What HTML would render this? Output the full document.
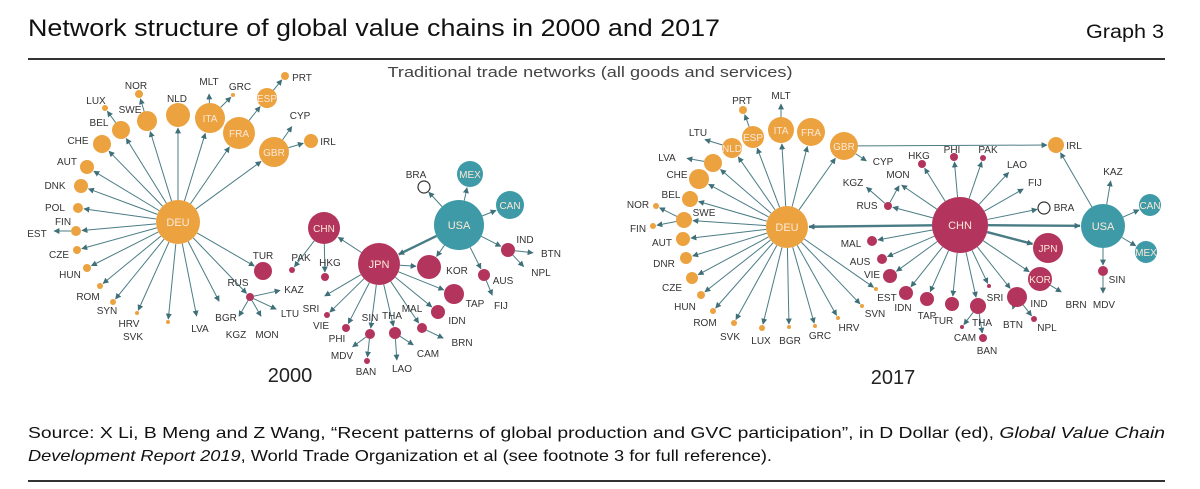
<!DOCTYPE html>
<html><head><meta charset="utf-8"><style>
html,body{margin:0;padding:0;background:#fff;}
svg{display:block;font-family:"Liberation Sans",sans-serif;}
</style></head><body>
<svg id="chart" width="1200" height="489" viewBox="0 0 1200 489" xmlns="http://www.w3.org/2000/svg">
<defs>
<marker id="ah" viewBox="0 0 10 10" refX="9" refY="5" markerWidth="6" markerHeight="6" markerUnits="userSpaceOnUse" orient="auto"><path d="M0,0L10,5L0,10z" fill="#3f6f78"/></marker>
</defs>
<text x="28" y="36" font-size="24" fill="#111" textLength="692" lengthAdjust="spacingAndGlyphs">Network structure of global value chains in 2000 and 2017</text>
<text x="1164" y="38" font-size="19" fill="#111" text-anchor="end" textLength="78" lengthAdjust="spacingAndGlyphs">Graph 3</text>
<line x1="28" y1="59" x2="1165" y2="59" stroke="#333" stroke-width="2"/>
<text x="590" y="77" font-size="15" fill="#444" text-anchor="middle" textLength="405" lengthAdjust="spacingAndGlyphs">Traditional trade networks (all goods and services)</text>
<g id="edges"></g>
<g id="nodes"></g>
<text x="290" y="382" font-size="20" fill="#222" text-anchor="middle">2000</text>
<text x="893" y="384" font-size="20" fill="#222" text-anchor="middle">2017</text>
<text x="28" y="438" font-size="16" fill="#111" textLength="1137" lengthAdjust="spacingAndGlyphs">Source: X Li, B Meng and Z Wang, “Recent patterns of global production and GVC participation”, in D Dollar (ed), <tspan font-style="italic">Global Value Chain</tspan></text>
<text x="28" y="461" font-size="16" fill="#111" textLength="744" lengthAdjust="spacingAndGlyphs"><tspan font-style="italic">Development Report 2019</tspan>, World Trade Organization et al (see footnote 3 for full reference).</text>
<line x1="28" y1="481" x2="1165" y2="481" stroke="#333" stroke-width="2"/>
</svg>
<script>
const nodes2000 = [
["DEU",178,222,22,"o","in"],["NLD",178,115,12,"o",177,98],["ITA",210,118,15,"o","in"],["FRA",239,133,16,"o","in"],
["GBR",274,152,15,"o","in"],["ESP",267,98,10,"o","in"],["PRT",285,76,4,"o",302,77],["GRC",233,95,2,"o",240,86],
["MLT",209,92,1,"o",209,81],["CYP",293,125,1,"o",300,115],["IRL",311,141,7,"o",328,141],["SWE",147,121,10,"o",130,109],
["NOR",139,94,4,"o",136,85],["LUX",105,108,3,"o",96,100],["BEL",121,130,9,"o",99,122],["CHE",102,144,9,"o",78,140],
["AUT",87,167,7,"o",67,161],["DNK",81,186,7,"o",55,185],["POL",78,208,5,"o",55,207],["FIN",76,231,5,"o",63,221],
["EST",52,231,1,"o",37,233],["CZE",77,250,4,"o",59,254],["HUN",87,268,4,"o",70,274],["ROM",100,286,3,"o",88,296],
["SYN",113,302,3,"o",107,310],["HRV",137,313,2,"o",129,323],["SVK",168,322,2,"o",133,336],["LVA",197,318,1,"o",200,328],
["BGR",220,303,1,"o",226,317],["TUR",263,271,9,"c",263,255],["RUS",250,297,4,"c",238,282],["KAZ",282,290,1,"c",294,289],
["LTU",278,310,1,"c",290,313],["KGZ",238,318,1,"c",236,334],["MON",262,318,1,"c",267,334],
["CHN",324,228,16,"c","in"],["PAK",292,270,3,"c",301,257],["HKG",325,277,4,"c",330,262],["JPN",379,264,21,"c","in"],
["USA",459,225,25,"t","in"],["MEX",470,174,13,"t","in"],["CAN",510,205,14,"t","in"],["BRA",424,187,6,"w",416,174],
["IND",508,250,7,"c",525,239],["BTN",535,253,1,"c",551,253],["NPL",525,268,1,"c",541,272],["AUS",484,275,6,"c",503,280],
["FIJ",493,297,1,"c",501,305],["KOR",429,267,12,"c",457,270],["TAP",454,294,10,"c",475,303],["IDN",438,312,7,"c",457,320],
["MAL",422,328,5,"c",412,308],["BRN",445,339,1,"c",462,342],["CAM",415,346,1,"c",428,353],["THA",395,333,6,"c",392,315],
["LAO",397,362,1,"c",402,368],["SIN",370,334,5,"c",370,317],["BAN",367,361,3,"c",366,371],["MDV",351,348,1,"c",342,355],
["PHI",346,328,4,"c",337,338],["VIE",327,315,3,"c",321,325],["SRI",323,297,1,"c",311,308]
];
const edges2000 = [
["DEU",["NLD","ITA","FRA","GBR","SWE","BEL","CHE","AUT","DNK","POL","FIN","CZE","HUN","ROM","SYN","HRV","SVK","LVA","BGR","TUR","RUS"]],
["ITA",["MLT","GRC"]],["FRA",["ESP"]],["ESP",["PRT"]],["GBR",["CYP","IRL"]],["SWE",["NOR"]],["BEL",["LUX"]],["FIN",["EST"]],
["RUS",["KAZ","LTU","KGZ","MON"]],["CHN",["PAK","HKG"]],
["JPN",["CHN","SRI","VIE","PHI","SIN","THA","MAL","IDN","TAP","KOR"]],["SIN",["MDV","BAN"]],["THA",["LAO","CAM"]],["MAL",["BRN"]],
["USA",["JPN","BRA","MEX","CAN","IND","AUS","KOR"]],["IND",["BTN","NPL"]],["AUS",["FIJ"]]
];
const nodes2017 = [
["DEU",787,227,21,"o","in"],["GBR",844,146,14,"o","in"],["FRA",811,132,14,"o","in"],["ITA",781,130,13,"o","in"],
["ESP",753,137,11,"o","in"],["NLD",732,148,10,"o","in"],["PRT",743,110,4,"o",742,100],["MLT",781,102,1,"o",781,95],
["LTU",703,139,1,"o",698,132],["LVA",685,158,1,"o",667,157],["X1",713,163,9,"o",null],["CHE",699,179,10,"o",677,174],
["BEL",690,199,8,"o",671,194],["NOR",656,206,3,"o",638,204],["SWE",684,220,8,"o",704,212],["FIN",653,226,3,"o",638,228],
["AUT",683,239,7,"o",662,242],["DNR",686,258,6,"o",664,263],["CZE",692,278,6,"o",672,287],["HUN",701,295,4,"o",685,306],
["ROM",713,311,3,"o",705,322],["SVK",734,323,3,"o",730,336],["LUX",762,328,3,"o",761,340],["BGR",789,327,2,"o",790,340],
["GRC",815,326,2,"o",820,335],["HRV",838,318,2,"o",849,327],["SVN",862,306,2,"o",875,313],["EST",876,289,2,"o",887,297],
["IRL",1056,145,8,"o",1074,145],["CYP",868,162,1,"o",883,161],
["CHN",960,225,28,"c","in"],["MAL",872,241,5,"c",851,243],["AUS",882,259,5,"c",860,261],["VIE",890,276,7,"c",872,274],
["RUS",888,206,4,"c",867,205],["KGZ",865,186,1,"c",853,182],["MON",900,184,1,"c",898,174],["HKG",922,164,4,"c",919,155],
["PHI",954,157,4,"c",952,149],["PAK",983,158,3,"c",988,149],["LAO",1010,171,1,"c",1017,164],["FIJ",1025,188,1,"c",1035,182],
["BRA",1044,208,6,"w",1064,207],["USA",1103,226,22,"t","in"],["CAN",1150,205,11,"t","in"],["MEX",1146,252,11,"t","in"],
["KAZ",1111,179,1,"t",1113,171],["SIN",1103,271,5,"c",1117,279],["MDV",1103,295,1,"c",1104,304],
["JPN",1048,248,15,"c","in"],["KOR",1040,279,12,"c","in"],["BRN",1063,293,1,"c",1076,304],["IND",1017,297,10,"c",1039,303],
["NPL",1034,319,3,"c",1047,327],["BTN",1012,311,1,"c",1013,324],["SRI",989,286,2,"c",995,297],["THA",978,306,8,"c",982,322],
["BAN",983,338,4,"c",987,350],["CAM",962,327,2,"c",965,337],["TUR",952,304,7,"c",943,320],["TAP",927,299,7,"c",927,315],
["IDN",906,293,7,"c",903,307]
];
const edges2017 = [
["DEU",["GBR","FRA","ITA","ESP","NLD","X1","CHE","BEL","SWE","AUT","DNR","CZE","HUN","ROM","SVK","LUX","BGR","GRC","HRV","SVN","EST"]],
["GBR",["IRL","CYP"]],["ESP",["PRT"]],["ITA",["MLT"]],["NLD",["LTU"]],["X1",["LVA"]],["SWE",["NOR","FIN"]],
["CHN",["DEU","RUS","MON","HKG","PHI","PAK","LAO","FIJ","BRA","USA","JPN","KOR","IND","SRI","THA","TUR","TAP","IDN","VIE","AUS","MAL"]],
["RUS",["KGZ","MON"]],["KOR",["BRN"]],["IND",["BTN","NPL"]],["THA",["CAM","BAN"]],
["USA",["IRL","KAZ","CAN","MEX","SIN"]],["SIN",["MDV"]]
];
const thick = ["USA-JPN","CHN-DEU","CHN-USA","CHN-JPN"];
const fills = {o:"#eba23f",c:"#b3345c",t:"#3d9aa6",w:"#ffffff"};
const NS="http://www.w3.org/2000/svg";
const eg=document.getElementById('edges'), ng=document.getElementById('nodes');
function draw(nodes, edges, yr){
  const idx={}; nodes.forEach(n=>idx[n[0]]=n);
  edges.forEach(([f,tos])=>tos.forEach(t=>{
    const a=idx[f], b=idx[t]; const dx=b[1]-a[1], dy=b[2]-a[2], d=Math.hypot(dx,dy);
    const ux=dx/d, uy=dy/d;
    const l=document.createElementNS(NS,'line');
    
    
    l.setAttribute('x1',a[1]+ux*a[3]); l.setAttribute('y1',a[2]+uy*a[3]);
    l.setAttribute('x2',b[1]-ux*(b[3]+1)); l.setAttribute('y2',b[2]-uy*(b[3]+1));
    l.setAttribute('stroke','#4a7c85');
    l.setAttribute('stroke-width', thick.includes(f+'-'+t)?2.4:1);
    l.setAttribute('marker-end','url(#ah)');
    eg.appendChild(l);
  }));
  nodes.forEach(n=>{
    const [id,x,y,r,g,lx,ly]=n;
    if(r>1){
      const c=document.createElementNS(NS,'circle');
      
      
      c.setAttribute('cx',x); c.setAttribute('cy',y); c.setAttribute('r',r);
      c.setAttribute('fill',fills[g]);
      if(g==='w'){c.setAttribute('stroke','#333');c.setAttribute('stroke-width','1.2');}
      ng.appendChild(c);
    }
    if(lx===null) return;
    const t=document.createElementNS(NS,'text');
    
    
    t.setAttribute('text-anchor','middle');
    if(lx==='in'){
      t.setAttribute('x',x); t.setAttribute('y',y+4);
      t.setAttribute('fill','#fde9d9'); t.setAttribute('font-size', r>18?11:10);
    } else {
      t.setAttribute('x',lx); t.setAttribute('y',ly+4);
      t.setAttribute('fill','#333'); t.setAttribute('font-size',10);
    }
    t.textContent=id;
    ng.appendChild(t);
  });
}
draw(nodes2000, edges2000, '2000');
draw(nodes2017, edges2017, '2017');
</script>
</body></html>
